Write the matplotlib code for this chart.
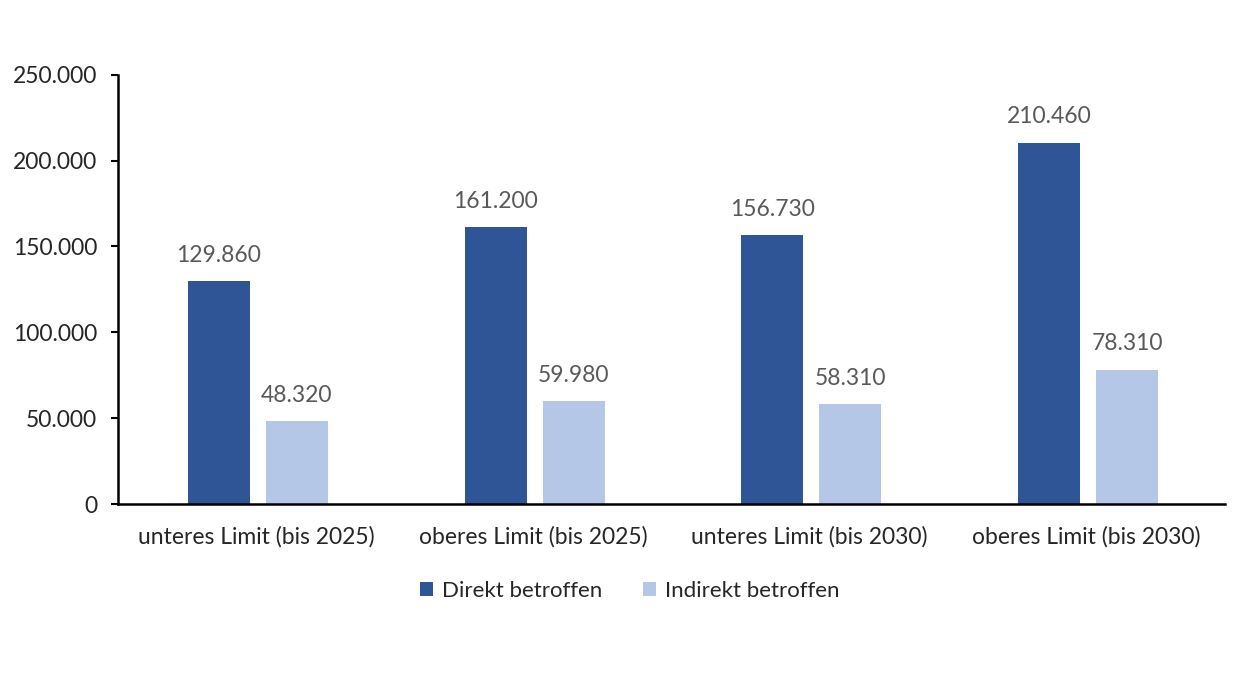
import matplotlib.pyplot as plt
import numpy as np

plt.rcParams['font.family'] = ['Lato', 'DejaVu Sans']

categories = ['unteres Limit (bis 2025)', 'oberes Limit (bis 2025)',
              'unteres Limit (bis 2030)', 'oberes Limit (bis 2030)']
direkt = [129860, 161200, 156730, 210460]
indirekt = [48320, 59980, 58310, 78310]
labels_direkt = ['129.860', '161.200', '156.730', '210.460']
labels_indirekt = ['48.320', '59.980', '58.310', '78.310']
yticks = [0, 50000, 100000, 150000, 200000, 250000]
ytick_labels = ['0', '50.000', '100.000', '150.000', '200.000', '250.000']

fig = plt.figure(figsize=(12.52, 6.77), dpi=100)
ax = fig.add_axes([0.0942, 0.2555, 0.884, 0.634])

x = np.arange(len(categories))
w = 0.224
gap = 0.058
b1 = ax.bar(x - (w + gap) / 2 + 0.006, direkt, w, color='#2F5597', label='Direkt betroffen')
b2 = ax.bar(x + (w + gap) / 2 + 0.006, indirekt, w, color='#B4C7E7', label='Indirekt betroffen')

for bars, labs in [(b1, labels_direkt), (b2, labels_indirekt)]:
    for rect, lab in zip(bars, labs):
        ax.annotate(lab, (rect.get_x() + rect.get_width() / 2, rect.get_height()),
                    xytext=(0, 11), textcoords='offset points', ha='center', va='bottom',
                    fontsize=16.5, color='#595959')

ax.set_xlim(-0.5, len(categories) - 0.5)
ax.set_ylim(0, 250000)
ax.set_yticks(yticks)
ax.set_yticklabels(ytick_labels, fontsize=16.5, color='#262626')
ax.set_xticks(x)
ax.set_xticklabels(categories, fontsize=16.5, color='#262626')
ax.tick_params(axis='x', length=0, pad=16)
ax.tick_params(axis='y', length=5, width=1.5, direction='out', pad=10)
ax.spines['top'].set_visible(False)
ax.spines['right'].set_visible(False)
ax.spines['left'].set_linewidth(1.8)
ax.spines['bottom'].set_linewidth(1.8)

leg = fig.legend(loc='center', bbox_to_anchor=(0.503, 0.127), ncol=2, frameon=False,
                 fontsize=16, handlelength=0.6, handleheight=0.6, handletextpad=0.4,
                 columnspacing=1.8)
for t in leg.get_texts():
    t.set_color('#262626')

fig.savefig('out.png', dpi=100)
